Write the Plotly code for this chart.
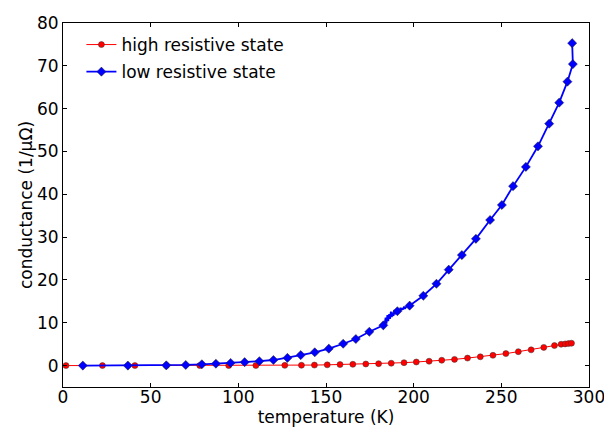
import plotly.graph_objects as go

# high resistive state (red) markers
high_T = [1.7, 22.5, 41, 59, 78, 94.5, 110, 126.5, 136, 143.4, 150.7, 158, 165.3, 172.7,
          180, 187.2, 194.5, 201.5, 208.8, 216, 223.3, 230.7, 238, 245.2, 252.6, 259.7,
          267, 274.2, 280.3, 284.1, 286.4, 288.3, 290]
high_G = [0, 0, 0, 0, 0, 0, 0.02, 0.05, 0.08, 0.12, 0.18, 0.24, 0.3, 0.37,
          0.45, 0.55, 0.68, 0.84, 1.02, 1.25, 1.45, 1.75, 2.05, 2.4, 2.8, 3.25,
          3.68, 4.25, 4.68, 4.98, 5.06, 5.14, 5.22]

# low resistive state (blue) markers
low_T = [11.3, 37, 58.9, 70, 79.2, 87.2, 95.6, 103.6, 112, 120, 128, 135.6, 143.6, 151.6,
         159.8, 167, 174.7, 182.7, 190.7, 197.7, 205.5, 213, 220, 227.5, 235.5, 243.6,
         250.3, 256.7, 264, 270.9, 277.3, 283, 287.7, 290.8, 290.4]
low_G = [0, 0, 0.05, 0.15, 0.3, 0.44, 0.62, 0.8, 1.03, 1.3, 1.8, 2.45, 3.1, 3.95,
         5.1, 6.2, 7.9, 9.4, 12.7, 14.0, 16.3, 19.1, 22.4, 25.8, 29.6, 34.0,
         37.5, 41.9, 46.4, 51.2, 56.5, 61.4, 66.3, 70.4, 75.3]

# noisy stretch of the low-resistive-state trace between the 182.7 K and 197.7 K markers
noise_T = [183.5, 184, 184.5, 185, 185.5, 186, 186.5, 187, 187.5, 188, 188.5, 189, 189.5,
           190, 190.7, 191.5, 192, 192.5, 193, 193.5, 194, 194.5, 195, 195.5, 196, 196.5, 197]
noise_G = [9.9, 11.2, 9.8, 11.8, 10.4, 12.0, 10.9, 12.6, 11.3, 12.4, 11.6, 13.0, 12.0,
           12.8, 12.7, 13.2, 12.6, 13.5, 12.9, 13.4, 13.1, 13.8, 13.3, 13.6, 13.7, 14.1, 13.8]

x_ticks = [0, 50, 100, 150, 200, 250, 300]
y_ticks = [0, 10, 20, 30, 40, 50, 60, 70, 80]

i0 = low_T.index(182.7)
i1 = low_T.index(197.7)
line_T = low_T[:i0 + 1] + noise_T + low_T[i1:]
line_G = low_G[:i0 + 1] + noise_G + low_G[i1:]

RED = "#ff0000"
BLUE = "#0000ff"
FS = 17

fig = go.Figure()

fig.add_trace(go.Scatter(x=high_T, y=high_G, mode="lines+markers",
                         line=dict(color=RED, width=1),
                         marker=dict(symbol="circle", size=6, color=RED,
                                     line=dict(color="#333333", width=0.5)),
                         name="high resistive state", legendgroup="h"))

fig.add_trace(go.Scatter(x=line_T, y=line_G, mode="lines",
                         line=dict(color=BLUE, width=1.8),
                         showlegend=False, hoverinfo="skip"))
fig.add_trace(go.Scatter(x=low_T, y=low_G, mode="markers",
                         marker=dict(symbol="diamond", size=7, color=BLUE,
                                     line=dict(color="#222222", width=0.5)),
                         showlegend=False))
fig.add_trace(go.Scatter(x=[None], y=[None], mode="lines+markers",
                         line=dict(color=BLUE, width=1.8),
                         marker=dict(symbol="diamond", size=7, color=BLUE,
                                     line=dict(color="#222222", width=0.5)),
                         name="low resistive state", legendgroup="l"))

axis_common = dict(showline=True, linecolor="black", linewidth=1, mirror="ticks",
                   ticks="inside", ticklen=4, tickcolor="black", showgrid=False,
                   zeroline=False, automargin=False, ticklabeloverflow="allow",
                   tickfont=dict(size=FS, color="black"))

fig.update_xaxes(range=[0, 300], tickvals=x_ticks, ticklabelstandoff=-5,
                 title=dict(text="temperature (K)", font=dict(size=FS, color="black"), standoff=7),
                 **axis_common)
fig.update_yaxes(range=[-5, 80], tickvals=y_ticks,
                 title=dict(text="conductance (1/μΩ)", font=dict(size=FS, color="black"), standoff=0),
                 **axis_common)

fig.update_layout(
    width=604, height=427,
    margin=dict(l=63, r=15, t=23, b=40),
    paper_bgcolor="white", plot_bgcolor="white",
    font=dict(family="DejaVu Sans", size=FS, color="black"),
    legend=dict(x=0.035, y=0.989, xanchor="left", yanchor="top",
                bgcolor="rgba(0,0,0,0)", font=dict(size=FS, color="black"),
                tracegroupgap=2),
    showlegend=True,
)

# remove the default 8px page margin so the figure fills the window exactly
fig.write_html("out.html", config={"displayModeBar": False},
               post_script="document.body.style.margin='0';")
